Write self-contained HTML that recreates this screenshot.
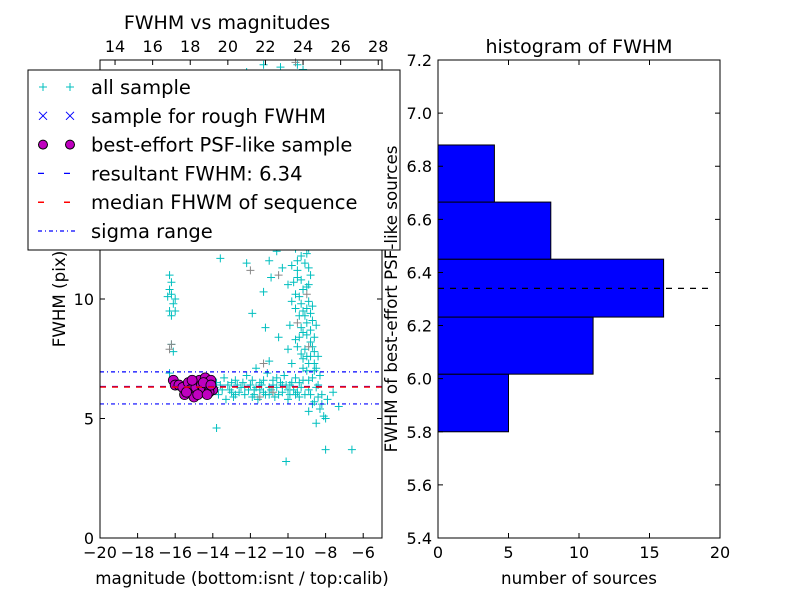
<!DOCTYPE html>
<html><head><meta charset="utf-8"><style>
body{margin:0;background:#fff}
svg{display:block;font-family:"DejaVu Sans","Liberation Sans",sans-serif}
</style></head><body>
<svg id="c" width="800" height="600" viewBox="0 0 800 600"></svg>
<script>
const cyanPts=[[-16.3,11.0],[-16.2,10.7],[-16.4,10.1],[-16.2,10.2],[-16.1,9.8],[-16.3,9.5],[-16.0,9.5],[-16.2,9.3],[-16.2,8.1],[-16.1,7.8],[-16.3,6.9],[-16.3,10.4],[-16.0,10.0],
[-13.8,6.5],[-13.5,6.2],[-13.2,6.4],[-13.0,6.1],[-12.8,6.6],[-12.5,6.3],[-12.3,6.0],[-12.0,6.4],[-11.8,6.2],[-11.5,6.5],[-11.3,6.1],[-11.0,6.3],[-10.8,6.6],[-10.5,6.0],[-10.3,6.4],[-10.0,6.2],[-9.8,6.5],[-9.5,6.1],[-9.3,6.3],[-13.7,6.0],[-13.4,6.7],[-12.9,5.9],[-12.2,6.8],[-11.6,5.8],[-11.1,6.9],[-10.7,5.9],[-10.2,6.8],[-13.9,6.3],[-12.6,6.1],[-11.9,6.6],[-11.4,6.4],[-10.9,6.2],[-10.4,6.5],[-12.7,6.4],[-12.1,6.2],[-11.2,6.0],[-10.6,6.3],[-9.9,6.0],[-9.6,6.7],[-13.3,5.8],[-11.7,6.3],
[-13.6,6.4],[-13.1,6.2],[-12.4,6.5],[-11.9,5.9],[-11.5,6.2],[-11.0,6.0],[-10.6,6.7],[-10.1,6.4],[-9.7,6.2],[-9.4,5.9],[-9.2,6.6],[-12.8,6.0],[-12.3,6.3],[-10.8,6.4],[-10.3,6.1],[-9.9,6.4],[-9.6,6.0],[-13.0,6.5],[-11.3,6.6],[-11.8,6.0],[-10.0,5.8],[-9.1,6.0],[-8.9,6.2],[-9.4,6.5],
[-9.5,19.8],[-9.2,19.6],[-10.0,19.3],[-9.7,18.5],[-9.4,17.8],[-9.8,17.2],[-9.0,16.8],[-9.6,16.3],[-9.3,15.7],[-9.9,15.1],[-9.1,14.6],[-9.5,14.2],[-9.7,13.8],[-9.2,13.4],[-9.4,13.0],[-9.8,12.7],[-9.0,12.4],[-9.6,12.1],[-9.3,11.8],[-9.1,11.5],[-9.5,11.2],[-8.8,11.0],[-9.7,10.7],[-9.2,10.4],[-9.4,10.1],[-8.9,9.9],[-9.6,9.6],[-9.1,9.3],[-8.7,9.1],[-9.3,8.8],[-9.0,8.5],[-8.8,8.2],[-9.5,8.0],[-8.6,7.8],[-9.2,7.5],[-8.9,7.3],[-8.5,7.1],[-9.0,7.0],[-8.7,6.7],[-8.4,6.4],[-8.8,6.0],[-8.6,5.7],[-8.3,5.4],[-8.9,5.3],[-8.1,5.1],[-8.5,4.8],[-7.6,6.1],[-7.3,5.5],[-8.0,3.7],[-6.6,3.7],[-10.1,3.2],[-13.8,4.6],
[-9.4,12.5],[-9.0,11.9],[-8.9,10.6],[-9.3,9.8],[-9.0,9.0],[-8.8,8.7],[-9.4,8.4],[-8.6,8.4],[-9.1,7.9],[-8.8,7.6],[-8.6,7.3],[-9.2,9.5],[-9.5,10.9],[-9.1,13.9],[-9.6,14.9],[-9.3,16.2],[-9.5,17.0],[-9.9,18.0],
[-9.7,12.9],[-9.2,12.7],[-9.5,11.6],[-8.9,11.3],[-9.3,10.8],[-9.0,10.5],[-9.6,10.2],[-8.7,9.7],[-9.4,9.3],[-9.0,9.6],[-8.8,9.4],[-9.2,8.6],[-8.5,8.9],[-9.6,8.3],[-8.7,8.0],[-9.3,7.7],[-8.4,7.6],[-9.0,7.6],[-8.6,7.0],[-9.2,7.1],[-8.3,6.8],[-8.9,6.6],[-8.5,6.3],[-8.2,6.0],[-8.7,5.6],[-8.4,5.9],[-9.8,13.6],[-9.0,13.2],[-9.5,15.5],[-9.2,15.0],[-9.8,16.6],[-9.3,17.3],[-9.6,18.2],[-9.2,18.8],[-9.9,14.3],[-9.4,14.6],[-8.9,12.1],[-9.8,11.4],[-10.0,10.6],[-9.8,9.9],[-9.9,8.9],[-10.0,7.9],[-9.8,7.3],[-8.2,5.6],[-7.9,5.8],[-8.0,5.0],
[-11.7,7.1],[-11.0,7.4],[-10.5,8.4],[-11.2,8.8],[-11.3,10.3],[-10.9,10.9],[-11.9,9.4],[-13.6,11.7],[-10.6,12.0],[-10.3,11.3],[-12.2,11.5],[-11.0,11.6],[-10.4,13.7],[-10.2,14.2],[-12.2,19.5],[-11.3,19.8],[-10.4,19.7],[-10.1,16.5],[-10.3,17.8]];
const grayPts=[[-16.3,7.9],[-16.2,8.1],[-9.8,12.6],[-10.5,11.0],[-11.3,7.3],[-9.5,9.0],[-9.3,14.5],[-9.0,10.2],[-11.5,5.9],[-10.8,6.1],[-9.7,16.5],[-8.9,8.0],[-12.0,11.2],[-9.6,19.9]];
const psfPts=[[-16.1,6.6],[-16.0,6.4],[-15.8,6.4],[-15.5,6.0],[-15.6,6.3],[-15.3,6.5],[-15.2,6.2],[-15.0,5.9],[-14.9,6.3],[-14.7,6.6],[-14.6,6.4],[-14.5,6.2],[-14.4,6.7],[-14.3,6.5],[-14.2,6.3],[-14.1,6.6],[-14.0,6.2],[-14.2,6.1],[-14.5,6.5],[-15.4,6.1],[-14.8,6.0],[-15.1,6.6],[-14.3,6.0],[-14.1,6.4]];
const resultFWHM=6.34, medianFWHM=6.32, sigmaLo=5.61, sigmaHi=6.95;
const binEdges=[5.8,6.017,6.232,6.45,6.665,6.88];
const binCounts=[5,11,16,8,4];
const xTicksL=[-20,-18,-16,-14,-12,-10,-8,-6];
const xTicksTop=[14,16,18,20,22,24,26,28];
const yTicksL=[0,5,10];
const xTicksR=[0,5,10,15,20];
const yTicksR=[5.4,5.6,5.8,6.0,6.2,6.4,6.6,6.8,7.0,7.2];

const svg=document.getElementById('c');
const NS='http://www.w3.org/2000/svg';
function mk(tag,attrs,parent){const e=document.createElementNS(NS,tag);for(const k in attrs)e.setAttribute(k,attrs[k]);(parent||svg).appendChild(e);return e;}
function txt(s,attrs,parent){const e=mk('text',attrs,parent);e.textContent=s;return e;}

const L={x0:100,x1:382,y0:538,y1:60};
const lx=v=>L.x0+(v+20)/15*(L.x1-L.x0);
const ly=v=>L.y0-v/20*(L.y0-L.y1);
const tx=v=>lx(v-33.2);
const R={x0:438,x1:720,y0:538,y1:60};
const rx=v=>R.x0+v/20*(R.x1-R.x0);
const ry=v=>R.y0-(v-5.4)/1.8*(R.y0-R.y1);

const gL=mk('g',{});


function plus(x,y,col,g){const p=mk('path',{d:`M${x-4},${y}h8M${x},${y-4}v8`,stroke:col,'stroke-width':1,fill:'none'},g);return p;}
cyanPts.forEach(p=>{const e=plus(lx(p[0]),ly(p[1]),'#00bfbf',gL);

});
grayPts.forEach(p=>{const e=plus(lx(p[0]),ly(p[1]),'#888',gL);

});
psfPts.forEach(p=>{const e=mk('circle',{cx:lx(p[0]),cy:ly(p[1]),r:5,fill:'#bf00bf',stroke:'#000','stroke-width':0.8},gL);

});
let ln=mk('line',{x1:L.x0,x2:L.x1,y1:ly(resultFWHM),y2:ly(resultFWHM),stroke:'#00f','stroke-width':1.2,'stroke-dasharray':'6,6'});

ln=mk('line',{x1:L.x0,x2:L.x1,y1:ly(medianFWHM),y2:ly(medianFWHM),stroke:'#f00','stroke-width':1.5,'stroke-dasharray':'6,6'});

[sigmaLo,sigmaHi].forEach(v=>{const e=mk('line',{x1:L.x0,x2:L.x1,y1:ly(v),y2:ly(v),stroke:'#00f','stroke-width':1.2,'stroke-dasharray':'4,3,1,3'});
});
mk('rect',{x:L.x0,y:L.y1,width:L.x1-L.x0,height:L.y0-L.y1,fill:'none',stroke:'#000','stroke-width':1});
xTicksL.forEach(v=>{const x=lx(v);mk('path',{d:`M${x},${L.y0}v-5`,stroke:'#000'});
const t=txt((v<0?'\u2212':'')+Math.abs(v),{x:x,y:558,'font-size':16,'text-anchor':'middle'});
});
xTicksTop.forEach(v=>{const x=tx(v);mk('path',{d:`M${x},${L.y1}v5`,stroke:'#000'});
const t=txt(String(v),{x:x,y:52,'font-size':16,'text-anchor':'middle'});
});
yTicksL.forEach(v=>{const y=ly(v);mk('path',{d:`M${L.x0},${y}h5M${L.x1},${y}h-5`,stroke:'#000'});
const t=txt(String(v),{x:94,y:y+6,'font-size':16,'text-anchor':'end'});
});
let t=txt('FWHM vs magnitudes',{x:227,y:29,'font-size':19,'text-anchor':'middle'});
t=txt('magnitude (bottom:isnt / top:calib)',{x:242,y:584,'font-size':16.7,'text-anchor':'middle'});
t=txt('FWHM (pix)',{x:0,y:0,'font-size':16.7,'text-anchor':'middle',transform:'translate(65,299) rotate(-90)'});

const lg=mk('g',{});
mk('rect',{x:28,y:70,width:372,height:180,fill:'#fff',stroke:'#000','stroke-width':1},lg);
const labels=['all sample','sample for rough FWHM','best-effort PSF-like sample','resultant FWHM: 6.34','median FHWM of sequence','sigma range'];
labels.forEach((s,i)=>{const y=87+i*28.8;
if(i==0){plus(43,y,'#00bfbf',lg);plus(70,y,'#00bfbf',lg);}
if(i==1){[43,70].forEach(x=>mk('path',{d:`M${x-4},${y-4}l8,8M${x+4},${y-4}l-8,8`,stroke:'#00f',fill:'none'},lg));}
if(i==2){[43,70].forEach(x=>mk('circle',{cx:x,cy:y,r:4.5,fill:'#bf00bf',stroke:'#000'},lg));}
if(i==3)mk('line',{x1:38,x2:76,y1:y,y2:y,stroke:'#00f','stroke-width':1.2,'stroke-dasharray':'6,20'},lg);
if(i==4)mk('line',{x1:38,x2:76,y1:y,y2:y,stroke:'#f00','stroke-width':1.5,'stroke-dasharray':'6,20'},lg);
if(i==5)mk('line',{x1:38,x2:76,y1:y,y2:y,stroke:'#00f','stroke-width':1.2,'stroke-dasharray':'4,3,1,3'},lg);
const e=txt(s,{x:91,y:y+7,'font-size':19.5},lg);
});

const gR=mk('g',{});
binCounts.forEach((c,i)=>{const yA=ry(binEdges[i]),yB=ry(binEdges[i+1]);
const e=mk('rect',{x:rx(0),y:yB,width:rx(c)-rx(0),height:yA-yB,fill:'#0000ff',stroke:'#000','stroke-width':1},gR);
});
ln=mk('line',{x1:R.x0,x2:rx(19.4),y1:ry(resultFWHM),y2:ry(resultFWHM),stroke:'#000','stroke-width':1.2,'stroke-dasharray':'6,6'});

mk('rect',{x:R.x0,y:R.y1,width:R.x1-R.x0,height:R.y0-R.y1,fill:'none',stroke:'#000','stroke-width':1});
xTicksR.forEach(v=>{const x=rx(v);mk('path',{d:`M${x},${R.y0}v-5M${x},${R.y1}v5`,stroke:'#000'});
const e=txt(String(v),{x:x,y:558,'font-size':16,'text-anchor':'middle'});
});
yTicksR.forEach(v=>{const y=ry(v);mk('path',{d:`M${R.x0},${y}h5M${R.x1},${y}h-5`,stroke:'#000'});
const e=txt(v.toFixed(1),{x:432,y:y+6,'font-size':16,'text-anchor':'end'});
});
t=txt('histogram of FWHM',{x:579,y:53,'font-size':19,'text-anchor':'middle'});
t=txt('number of sources',{x:579,y:584,'font-size':16.7,'text-anchor':'middle'});
t=txt('FWHM of best-effort PSF-like sources',{x:0,y:0,'font-size':16.7,'text-anchor':'middle',transform:'translate(397,299) rotate(-90)'});
</script>
</body></html>
